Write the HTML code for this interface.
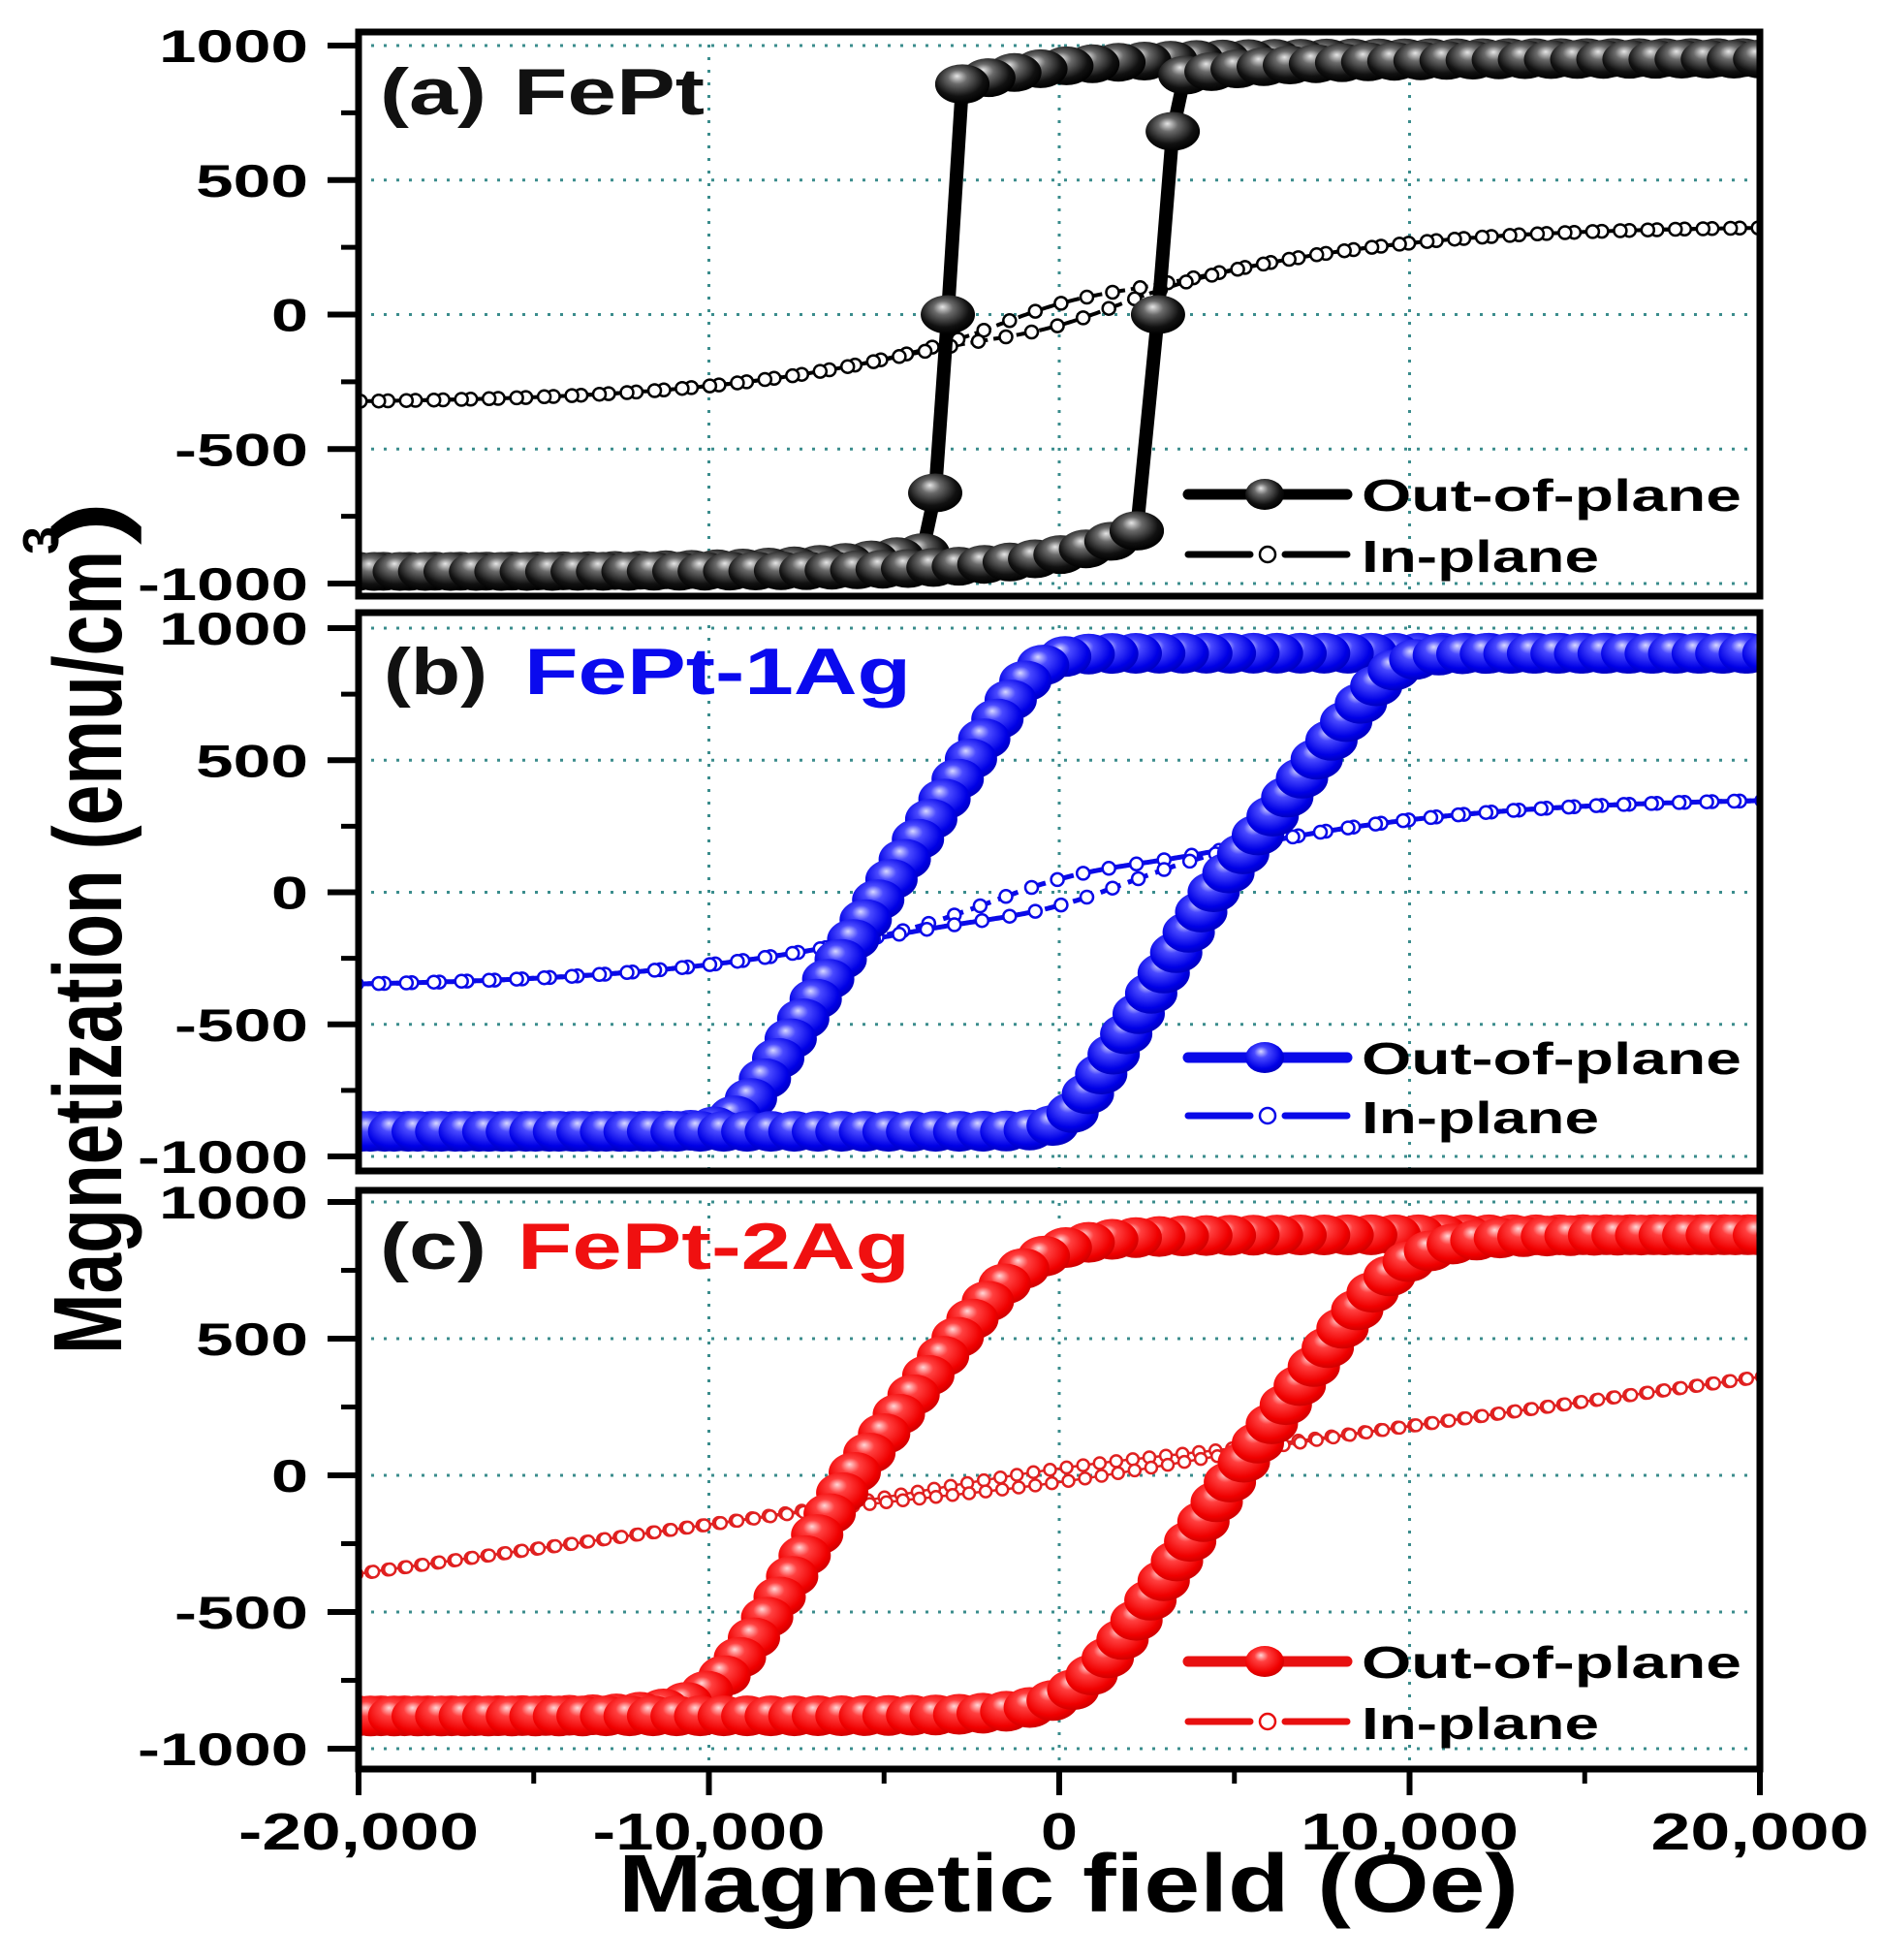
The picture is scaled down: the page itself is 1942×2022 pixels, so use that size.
<!DOCTYPE html>
<html><head><meta charset="utf-8"><style>
html,body{margin:0;padding:0;background:#fff;}
svg{display:block;}
text{font-family:"Liberation Sans",Arial,sans-serif;font-weight:bold;}
</style></head><body>
<svg id="s" width="1942" height="2022" viewBox="0 0 1942 2022" xmlns="http://www.w3.org/2000/svg">
<defs>
<radialGradient id="gk" cx="0.45" cy="0.4" r="0.6" fx="0.4" fy="0.3"><stop offset="0" stop-color="#e6e6e6"/><stop offset="0.3" stop-color="#6a6a6a"/><stop offset="0.75" stop-color="#111"/><stop offset="1" stop-color="#000"/></radialGradient>
<radialGradient id="gb" cx="0.45" cy="0.4" r="0.6" fx="0.4" fy="0.3"><stop offset="0" stop-color="#d8d8ff"/><stop offset="0.3" stop-color="#4a4aff"/><stop offset="0.8" stop-color="#0000e6"/><stop offset="1" stop-color="#0000c0"/></radialGradient>
<radialGradient id="gr" cx="0.45" cy="0.4" r="0.6" fx="0.4" fy="0.3"><stop offset="0" stop-color="#ffd8d8"/><stop offset="0.3" stop-color="#ff4040"/><stop offset="0.8" stop-color="#f00000"/><stop offset="1" stop-color="#d00000"/></radialGradient>
<clipPath id="c0"><rect x="370" y="33" width="1446" height="582"/></clipPath>
<clipPath id="c1"><rect x="370" y="632" width="1446" height="576"/></clipPath>
<clipPath id="c2"><rect x="370" y="1228" width="1446" height="597"/></clipPath>
</defs>
<g id="content"></g>
<text x="392" y="118" font-size="68" textLength="110" lengthAdjust="spacingAndGlyphs" fill="#111">(a)</text>
<text x="530" y="118" font-size="68" textLength="197" lengthAdjust="spacingAndGlyphs" fill="#111">FePt</text>
<text x="396" y="716" font-size="68" textLength="107" lengthAdjust="spacingAndGlyphs" fill="#111">(b)</text>
<text x="541" y="716" font-size="68" textLength="399" lengthAdjust="spacingAndGlyphs" fill="#0a0aee">FePt-1Ag</text>
<text x="392" y="1309" font-size="68" textLength="110" lengthAdjust="spacingAndGlyphs" fill="#111">(c)</text>
<text x="534" y="1309" font-size="68" textLength="405" lengthAdjust="spacingAndGlyphs" fill="#f01010">FePt-2Ag</text>

<text transform="translate(125,1397) rotate(-90)" font-size="100" textLength="829" lengthAdjust="spacingAndGlyphs" fill="#000">Magnetization (emu/cm</text>
<text transform="translate(60,572) rotate(-90)" font-size="52" fill="#000">3</text>
<text transform="translate(125,562) rotate(-90)" font-size="100" textLength="45" lengthAdjust="spacingAndGlyphs" fill="#000">)</text>

<text x="638" y="1972" font-size="84" textLength="929" lengthAdjust="spacingAndGlyphs" fill="#000">Magnetic field (Oe)</text>
</svg>
<script>
(function(){
const g=document.getElementById('content');
let out=[];
const X=H=>370+(H+20000)*1446/40000;
const P=[{y1:47,y0:602,top:33,bot:615},{y1:648,y0:1193,top:632,bot:1208},{y1:1240,y0:1804,top:1228,bot:1825}];
const Y=(p,M)=>p.y1+(1000-M)/2000*(p.y0-p.y1);
const sat=(u,p)=>u/Math.pow(1+Math.pow(Math.abs(u),p),1/p);
const gs=(H,w)=>Math.exp(-Math.pow(H/w,2));
function samp(f,H0,H1,n){let a=[];for(let i=0;i<=n;i++){let H=H0+(H1-H0)*i/n;a.push([H,f(H)]);}return a;}
function toPx(p,arr){return arr.map(d=>[X(d[0]),Y(p,d[1])]);}
function place(px,sp){let res=[px[0]];let acc=0;for(let i=1;i<px.length;i++){let dx=px[i][0]-px[i-1][0],dy=px[i][1]-px[i-1][1];acc+=Math.hypot(dx,dy);if(acc>=sp){res.push(px[i]);acc=0;}}return res;}
function pl(px){return px.map(q=>q[0].toFixed(1)+','+q[1].toFixed(1)).join(' ');}
P.forEach((p,i)=>{
  [-10000,0,10000].forEach(H=>out.push(`<line x1="${X(H)}" y1="${p.top}" x2="${X(H)}" y2="${p.bot}" stroke="#3a8c8c" stroke-width="3" stroke-dasharray="3 10"/>`));
  [1000,500,0,-500,-1000].forEach(M=>out.push(`<line x1="370" y1="${Y(p,M)}" x2="1816" y2="${Y(p,M)}" stroke="#3a8c8c" stroke-width="3" stroke-dasharray="3 10"/>`));
});
function sphereSeries(pi,branches,grad,rx,ry,sp){
  let s=`<g clip-path="url(#c${pi})">`;
  let col=grad=='gk'?'#000':grad=='gb'?'#0000e0':'#e00000';
  branches.forEach(b=>{let px=toPx(P[pi],b);s+=`<polyline points="${pl(px)}" fill="none" stroke="${col}" stroke-width="10"/>`;});
  branches.forEach(b=>{let px=toPx(P[pi],b);place(px,sp).forEach(q=>{s+=`<ellipse cx="${q[0].toFixed(1)}" cy="${q[1].toFixed(1)}" rx="${rx}" ry="${ry}" fill="url(#${grad})"/>`;});});
  return s+'</g>';
}
function openSeries(pi,branches,col,r,sp,dash,lw){
  let s=`<g clip-path="url(#c${pi})">`;
  branches.forEach(b=>{let px=toPx(P[pi],b);s+=`<polyline points="${pl(px)}" fill="none" stroke="${col}" stroke-width="${lw}" ${dash?`stroke-dasharray="${dash}"`:''}/>`;});
  branches.forEach(b=>{let px=toPx(P[pi],b);place(px,sp).forEach(q=>{s+=`<circle cx="${q[0].toFixed(1)}" cy="${q[1].toFixed(1)}" r="${r}" fill="#fff" stroke="${col}" stroke-width="2.5"/>`;});});
  return s+'</g>';
}
// Panel a
{
  let dtop=H=>955-100*Math.exp(-(H+2766)/2500);
  let dbot=H=>-955+70*Math.exp((H+3900)/3000);
  let atop=H=>950-60*Math.exp(-(H-3600)/3000);
  let abot=H=>-955+150*Math.exp((H-2213)/2500);
  let b1=samp(dtop,21000,-2766,160), b2=samp(dbot,-3900,-21000,140);
  let a1=samp(abot,-21000,2213,160), a2=samp(atop,3600,21000,140);
  let ipd=H=>330*Math.tanh(H/9000)+40*gs(H,2500);
  let ipa=H=>330*Math.tanh(H/9000)-40*gs(H,2500);
  out.push(openSeries(0,[samp(ipd,21000,-21000,800),samp(ipa,-21000,21000,800)],'#000',6.5,27,'18 6',4));
  let s='<g clip-path="url(#c0)">';
  let jd=toPx(P[0],[[-2766,858],[-3180,0],[-3540,-663],[-3900,-880]]);
  let ja=toPx(P[0],[[2213,-803],[2820,0],[3240,681],[3600,900]]);
  s+=`<polyline points="${pl(jd)}" fill="none" stroke="#000" stroke-width="14"/><polyline points="${pl(ja)}" fill="none" stroke="#000" stroke-width="14"/>`;
  out.push(s+'</g>');
  out.push(sphereSeries(0,[b1,b2,a1,a2],'gk',28,20,24));
  let s2='<g clip-path="url(#c0)">';
  jd.slice(0,3).concat(ja.slice(0,3)).forEach(q=>{s2+=`<ellipse cx="${q[0]}" cy="${q[1]}" rx="28" ry="20" fill="url(#gk)"/>`;});
  out.push(s2+'</g>');
}
// Panel b
{
  let ipd=H=>360*Math.tanh(H/10000)+50*gs(H,3000);
  let ipa=H=>360*Math.tanh(H/10000)-50*gs(H,3000);
  out.push(openSeries(1,[samp(ipd,21000,-21000,800),samp(ipa,-21000,21000,800)],'#0a0ae8',6.5,27,'22 8',5));
  let d=H=>{let u=(H+5030)/(H>-5030?4500:4300);return 905*sat(u,12);};
  let a=H=>{let u=(H-4400)/(H<4400?4200:5300);return 905*sat(u,12);};
  out.push(sphereSeries(1,[samp(d,21000,-21000,2000),samp(a,-21000,21000,2000)],'gb',27,21,24));
}
// Panel c
{
  let ipd=H=>18*H/1000+25*gs(H,5000);
  let ipa=H=>18*H/1000-25*gs(H,5000);
  out.push(openSeries(2,[samp(ipd,21000,-21000,800),samp(ipa,-21000,21000,800)],'#e02020',6,17,null,2.5));
  let d=H=>{let u=(H+5900)/(H>-5900?5200:4100);return 880*sat(u,6);};
  let a=H=>{let u=(H-5000)/(H<5000?4600:5000);return 880*sat(u,6);};
  out.push(sphereSeries(2,[samp(d,21000,-21000,2000),samp(a,-21000,21000,2000)],'gr',27,21,24));
}
P.forEach(p=>{
  out.push(`<rect x="370" y="${p.top}" width="1446" height="${p.bot-p.top}" fill="none" stroke="#000" stroke-width="7"/>`);
  [1000,500,0,-500,-1000].forEach(M=>out.push(`<line x1="338" y1="${Y(p,M)}" x2="370" y2="${Y(p,M)}" stroke="#000" stroke-width="6"/>`));
  [750,250,-250,-750].forEach(M=>out.push(`<line x1="352" y1="${Y(p,M)}" x2="370" y2="${Y(p,M)}" stroke="#000" stroke-width="5"/>`));
  const lab={"1000":154,"500":116,"0":38,"-500":138,"-1000":176};
  [1000,500,0,-500,-1000].forEach(M=>out.push(`<text x="318" y="${Y(p,M)+17}" font-size="47" text-anchor="end" textLength="${lab[M]}" lengthAdjust="spacingAndGlyphs">${M}</text>`));
});
[-20000,-10000,0,10000,20000].forEach(H=>out.push(`<line x1="${X(H)}" y1="1825" x2="${X(H)}" y2="1852" stroke="#000" stroke-width="6"/>`));
[-15000,-5000,5000,15000].forEach(H=>out.push(`<line x1="${X(H)}" y1="1825" x2="${X(H)}" y2="1840" stroke="#000" stroke-width="5"/>`));
const xl=[[-20000,"-20,000",248],[-10000,"-10,000",240],[0,"0",38],[10000,"10,000",225],[20000,"20,000",225]];
xl.forEach(a=>out.push(`<text x="${X(a[0])}" y="1908" font-size="54" text-anchor="middle" textLength="${a[2]}" lengthAdjust="spacingAndGlyphs">${a[1]}</text>`));
const L=[[510,572,'#000','gk'],[1091,1151,'#0a0ae8','gb'],[1714,1776,'#e81010','gr']];
L.forEach(l=>{
  out.push(`<line x1="1226" y1="${l[0]}" x2="1390" y2="${l[0]}" stroke="${l[2]}" stroke-width="11" stroke-linecap="round"/>`);
  out.push(`<ellipse cx="1305" cy="${l[0]}" rx="20" ry="16" fill="url(#${l[3]})"/>`);
  out.push(`<line x1="1226" y1="${l[1]}" x2="1290" y2="${l[1]}" stroke="${l[2]}" stroke-width="7" stroke-linecap="round"/>`);
  out.push(`<line x1="1326" y1="${l[1]}" x2="1390" y2="${l[1]}" stroke="${l[2]}" stroke-width="7" stroke-linecap="round"/>`);
  out.push(`<circle cx="1308" cy="${l[1]}" r="8" fill="#fff" stroke="${l[2]}" stroke-width="2.5"/>`);
  out.push(`<text x="1405" y="${l[0]+17}" font-size="46" textLength="392" lengthAdjust="spacingAndGlyphs" fill="#000">Out-of-plane</text>`);
  out.push(`<text x="1405" y="${l[1]+18}" font-size="46" textLength="245" lengthAdjust="spacingAndGlyphs" fill="#000">In-plane</text>`);
});
g.innerHTML=out.join('');
})();
</script>
</body></html>
